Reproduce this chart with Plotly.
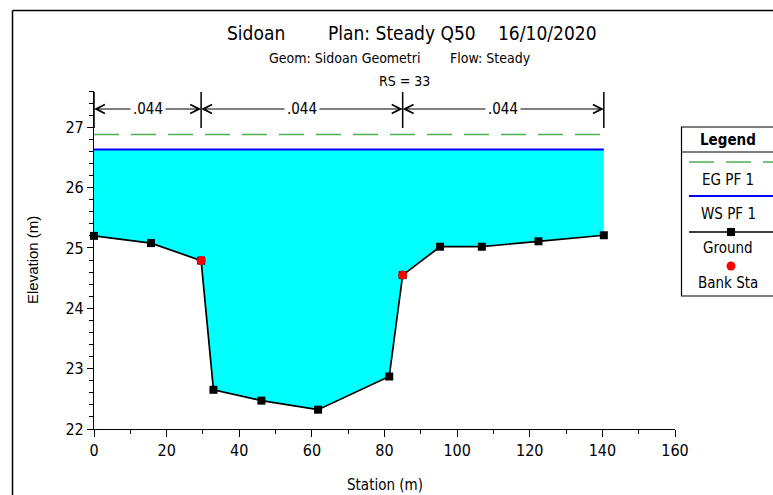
import plotly.graph_objects as go

# ---------------- data ----------------
station = [0, 15.7, 29.5, 32.9, 46.1, 61.7, 81.3, 85.0, 95.3, 106.8, 122.4, 140.4]
ground = [25.2, 25.08, 24.79, 22.65, 22.47, 22.32, 22.87, 24.55, 25.02, 25.02, 25.11, 25.21]
bank_sta = [29.5, 85.0]
bank_elev = [24.79, 24.55]
ws_elev = 26.63
eg_elev = 26.88
n_bounds = [0, 29.5, 85.0, 140.4]
n_values = [".044", ".044", ".044"]

title_parts = ["Sidoan", "Plan: Steady Q50", "16/10/2020"]
sub_parts = ["Geom: Sidoan Geometri", "Flow: Steady"]
rs_text = "RS = 33"
legend_labels = ["EG PF 1", "WS PF 1", "Ground", "Bank Sta"]

# ---------------- layout geometry ----------------
W, H = 773, 495
L, R, T, B = 94, 98, 91, 66
PW, PH = W - L - R, H - T - B
NARROW = "DejaVu Sans Condensed, Liberation Sans Narrow, Arial Narrow, sans-serif"
REG = "Liberation Sans, Arial, sans-serif"


def px(xp):
    return (xp - L) / PW


def py(yp):
    return (H - B - yp) / PH


fig = go.Figure()

# water fill (polygon built from WS level and ground profile)
fig.add_trace(go.Scatter(
    x=station + [station[-1], station[0]],
    y=ground + [ws_elev, ws_elev],
    fill="toself", fillcolor="#00FFFF", mode="lines",
    line=dict(width=0), hoverinfo="skip", showlegend=False))

# EG line
fig.add_trace(go.Scatter(
    x=[station[0], station[-1]], y=[eg_elev, eg_elev], mode="lines",
    line=dict(color="#4CAF50", width=1.5, dash="25px,12px"),
    name=legend_labels[0], showlegend=False))

# WS line
fig.add_trace(go.Scatter(
    x=[station[0], station[-1]], y=[ws_elev, ws_elev], mode="lines",
    line=dict(color="#0000FF", width=2), name=legend_labels[1], showlegend=False))

# Ground
fig.add_trace(go.Scatter(
    x=station, y=ground, mode="lines+markers",
    line=dict(color="black", width=1.7),
    marker=dict(symbol="square", size=8, color="black"),
    cliponaxis=False, name=legend_labels[2], showlegend=False))

# Bank stations
fig.add_trace(go.Scatter(
    x=bank_sta, y=bank_elev, mode="markers",
    marker=dict(symbol="circle", size=9, color="#FF0000"),
    cliponaxis=False, name=legend_labels[3], showlegend=False))

shapes = []
annotations = []

# n-value markers
arrow_y = 22 + (H - B - 109) / (PH / 5.6)
for b in n_bounds:
    shapes.append(dict(type="line", xref="x", yref="paper", x0=b, x1=b,
                       y0=py(128), y1=py(92), line=dict(color="black", width=1.5)))
for i, nv in enumerate(n_values):
    a, b = n_bounds[i], n_bounds[i + 1]
    mid = (a + b) / 2
    for end in (a, b):
        annotations.append(dict(x=end, y=arrow_y, xref="x", yref="y",
                                ax=mid, ay=arrow_y, axref="x", ayref="y",
                                text="", showarrow=True, arrowhead=5,
                                arrowsize=1.6, arrowwidth=1.1, arrowcolor="black",
                                standoff=0, startstandoff=0))
for i, nv in enumerate(n_values):
    a, b = n_bounds[i], n_bounds[i + 1]
    mid = (a + b) / 2
    annotations.append(dict(x=mid, y=arrow_y, xref="x", yref="y", text=nv,
                            showarrow=False, bgcolor="white", borderpad=2,
                            font=dict(family=NARROW, size=15, color="black"),
                            xanchor="center", yanchor="middle"))

# titles
for txt, cx in zip(title_parts, [256, 402, 547]):
    annotations.append(dict(x=px(cx), y=py(33), xref="paper", yref="paper", text=txt,
                            showarrow=False, xanchor="center", yanchor="middle",
                            font=dict(family=NARROW, size=19, color="black")))
for txt, cx in zip(sub_parts, [344, 490]):
    annotations.append(dict(x=px(cx), y=py(58), xref="paper", yref="paper", text=txt,
                            showarrow=False, xanchor="center", yanchor="middle",
                            font=dict(family=NARROW, size=14, color="black")))
annotations.append(dict(x=px(404), y=py(81), xref="paper", yref="paper", text=rs_text,
                        showarrow=False, xanchor="center", yanchor="middle",
                        font=dict(family=NARROW, size=14, color="black")))

# axis titles
annotations.append(dict(x=0.5, y=py(485), xref="paper", yref="paper", text="Station (m)",
                        showarrow=False, xanchor="center", yanchor="middle",
                        font=dict(family=NARROW, size=15, color="black")))
annotations.append(dict(x=px(32), y=0.5, xref="paper", yref="paper", text="Elevation (m)",
                        showarrow=False, xanchor="center", yanchor="middle", textangle=-90,
                        font=dict(family=REG, size=15, color="black")))

# outer frame (top and left edges visible)
shapes.append(dict(type="line", xref="paper", yref="paper", x0=px(12.5), x1=px(800),
                   y0=py(10.5), y1=py(10.5), line=dict(color="black", width=1.5)))
shapes.append(dict(type="line", xref="paper", yref="paper", x0=px(12.5), x1=px(12.5),
                   y0=py(10.5), y1=py(520), line=dict(color="black", width=1.5)))

# legend box
shapes.append(dict(type="rect", xref="paper", yref="paper", x0=px(681.5), x1=px(800),
                   y0=py(296), y1=py(127), line=dict(color="black", width=1.2),
                   fillcolor="white", layer="above"))
shapes.append(dict(type="line", xref="paper", yref="paper", x0=px(681.5), x1=px(800),
                   y0=py(152), y1=py(152), line=dict(color="black", width=1.2)))
shapes.append(dict(type="line", xref="paper", yref="paper", x0=px(689), x1=px(790),
                   y0=py(162), y1=py(162),
                   line=dict(color="#4CAF50", width=1.5, dash="25px,12px")))
shapes.append(dict(type="line", xref="paper", yref="paper", x0=px(689), x1=px(790),
                   y0=py(196), y1=py(196), line=dict(color="#0000FF", width=2)))
shapes.append(dict(type="line", xref="paper", yref="paper", x0=px(689), x1=px(790),
                   y0=py(232), y1=py(232), line=dict(color="black", width=1.5)))
shapes.append(dict(type="rect", xref="paper", yref="paper", x0=px(727), x1=px(735),
                   y0=py(236), y1=py(228), line=dict(width=0), fillcolor="black"))
shapes.append(dict(type="circle", xref="paper", yref="paper", x0=px(726.5), x1=px(735.5),
                   y0=py(270.5), y1=py(261.5), line=dict(width=0), fillcolor="#FF0000"))

annotations.append(dict(x=px(728), y=py(140), xref="paper", yref="paper",
                        text="<b>Legend</b>", showarrow=False, xanchor="center",
                        yanchor="middle", font=dict(family=NARROW, size=15, color="black")))
for txt, yy in zip(legend_labels, [180, 214, 248, 283]):
    annotations.append(dict(x=px(728), y=py(yy), xref="paper", yref="paper", text=txt,
                            showarrow=False, xanchor="center", yanchor="middle",
                            font=dict(family=NARROW, size=15, color="black")))

fig.update_layout(
    width=W, height=H,
    margin=dict(l=L, r=R, t=T, b=B, pad=0),
    paper_bgcolor="white", plot_bgcolor="white",
    showlegend=False,
    shapes=shapes, annotations=annotations,
    xaxis=dict(range=[0, 160], dtick=20, tick0=0, showgrid=False, zeroline=False,
               showline=True, linecolor="black", linewidth=1.2,
               ticks="outside", ticklen=7, tickwidth=1.2, tickcolor="black",
               minor=dict(dtick=10, ticks="outside", ticklen=4, tickcolor="black"),
               tickfont=dict(family=NARROW, size=16, color="black")),
    yaxis=dict(range=[22, 27.6], dtick=1, tick0=22, showgrid=False, zeroline=False,
               showline=True, linecolor="black", linewidth=1.2,
               ticks="outside", ticklen=6, tickwidth=1.2, tickcolor="black",
               minor=dict(dtick=0.2, ticks="outside", ticklen=4, tickcolor="black"),
               tickfont=dict(family=NARROW, size=16, color="black")),
)

fig.write_html("out.html", config={"displayModeBar": False},
               post_script="document.body.style.margin='0';document.body.style.overflow='hidden';")
